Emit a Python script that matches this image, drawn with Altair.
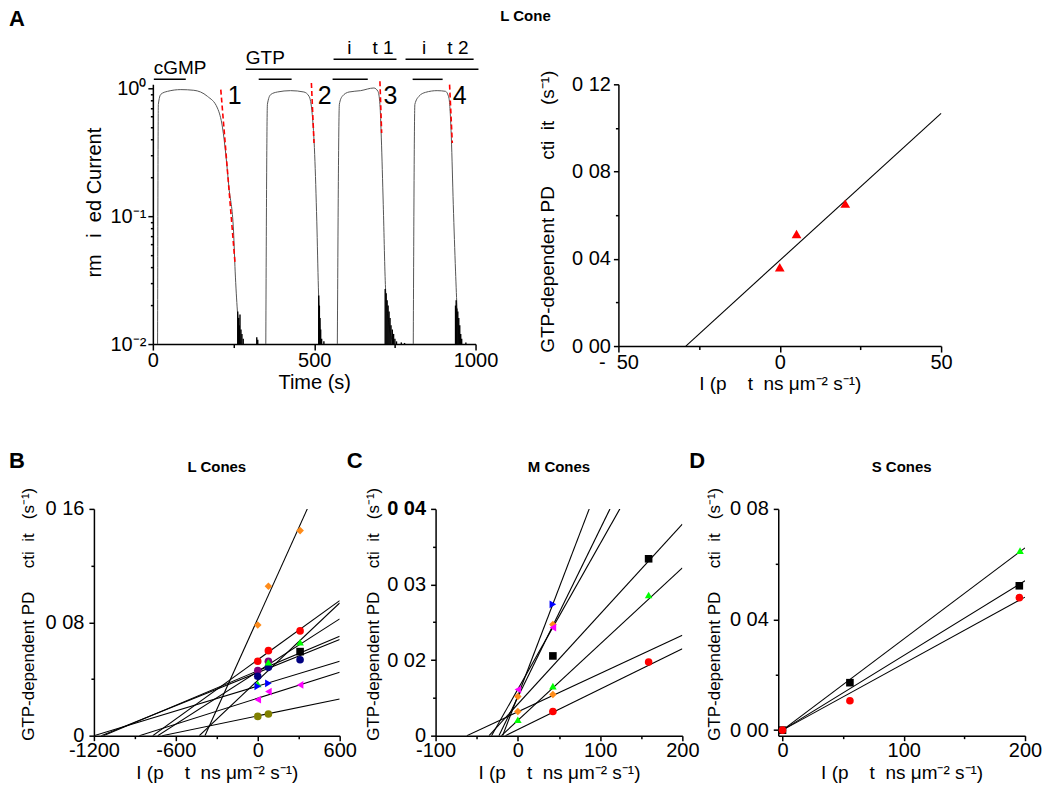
import altair as alt
import pandas as pd

FONT = "Liberation Sans"
NB = "\u00a0"

# ---------------- texts ----------------
TOP_TITLE = "L Cone"
PANEL_TITLES = ["L Cones", "M Cones", "S Cones"]
Y_TRACE = NB * 5 + "rm" + NB * 3 + "i" + NB * 2 + "ed Current"
Y_PDE = "GTP-dependent PD" + NB * 5 + "cti" + NB * 2 + "it" + NB * 3 + "(s⁻¹)"
X_INT = "I (p" + NB * 4 + "t" + NB * 2 + "ns μm⁻² s⁻¹)"
X_TIME = "Time (s)"

# ---------------- Panel A (left): current trace ----------------
p1_t = [14.6, 17, 24.8, 45.5, 86.7, 127, 169, 200, 216, 226, 236, 250, 255, 262, 272]
p1_v = [0.01, 0.75, 0.898, 0.947, 0.977, 0.965, 0.866, 0.702, 0.49, 0.305, 0.166, 0.0764, 0.0372, 0.0181, 0.01]
p2_t = [350, 355, 365, 386, 427, 468, 484, 494, 501.5, 508, 513, 520]
p2_v = [0.01, 0.75, 0.893, 0.936, 0.959, 0.936, 0.866, 0.622, 0.303, 0.0914, 0.0275, 0.01]
p3_t = [571.7, 578, 587, 608, 644, 685, 697.6, 703.7, 708, 714, 721, 731.6, 747]
p3_v = [0.01, 0.75, 0.866, 0.936, 0.959, 1.006, 0.947, 0.746, 0.409, 0.123, 0.0275, 0.0143, 0.01]
p4_t = [807, 812, 824.5, 845, 881, 907, 917.5, 925, 931, 938, 943, 951]
p4_v = [0.01, 0.75, 0.866, 0.93, 0.959, 0.947, 0.84, 0.409, 0.123, 0.0372, 0.0181, 0.01]

noise_t = [263, 266, 268, 270, 273, 276, 280, 322, 325,
           514, 516, 518, 520, 523, 530,
           720, 723, 726, 729, 732, 735, 738, 742, 746, 750, 755, 770, 780,
           938, 940, 942, 945, 948, 951, 954, 957, 970]
noise_v = [0.018, 0.016, 0.014, 0.017, 0.013, 0.012, 0.011, 0.0113, 0.0108,
           0.024, 0.02, 0.016, 0.013, 0.011, 0.0105,
           0.027, 0.025, 0.022, 0.02, 0.018, 0.016, 0.014, 0.013, 0.012, 0.011, 0.0105, 0.0103, 0.0102,
           0.02, 0.022, 0.019, 0.018, 0.016, 0.014, 0.012, 0.011, 0.0103]

fit_t0 = [210.5, 491.3, 703.7, 919.5]
fit_v0 = [0.977, 1.10, 1.134, 1.069]
fit_t1 = [254.9, 499.4, 709.0, 927.9]
fit_v1 = [0.0422, 0.374, 0.448, 0.374]

bar_t0 = [3, 288, 328, 557, 805, 560, 783]
bar_t1 = [102, 1009, 430, 666, 898, 755, 994]
bar_lv = [1.176, 1.407, 1.176, 1.176, 1.176, 1.685, 1.685]

lab_left = ["cGMP", "GTP"]
lab_left_t = [3, 288]
lab_left_lv = [1.286, 1.54]
lab_right = ["i" + NB * 4 + "t 1", "i" + NB * 4 + "t 2"]
lab_right_t = [746, 978]
lab_right_lv = [1.843, 1.843]

num_labels = ["1", "2", "3", "4"]
num_t = [232, 511, 715, 929]
num_lv = [0.75, 0.75, 0.75, 0.75]

# ---------------- Panel A (right) ----------------
AR_X = [0, 5.2, 20.3]
AR_Y = [0.0361, 0.0514, 0.0653]
AR_FIT_X = [-29.1, 50]
AR_FIT_Y = [0.0, 0.1067]

# ---------------- Panel B: L cones ----------------
B_series = ["orange", "red", "purple", "navy", "green", "black", "blue", "magenta", "olive"]
B_colors = ["#FF8C1A", "#FF0000", "#800080", "#000080", "#00FF00", "#000000", "#0000FF", "#FF00FF", "#808000"]
B_shapes = ["diamond", "circle", "circle", "circle", "triangle-up", "square", "triangle-right", "triangle-left", "circle"]
B_px = [[0, 78, 310], [0, 78, 310], [0, 78], [0, 78, 310], [0, 78, 310], [310], [0, 78], [0, 78, 310], [0, 78]]
B_py = [[0.0781, 0.1054, 0.1447], [0.0525, 0.060, 0.0739], [0.0459, 0.0525], [0.0419, 0.0482, 0.0536],
        [0.0365, 0.0518, 0.0659], [0.0593], [0.0348, 0.0369], [0.0254, 0.0311, 0.0358], [0.0136, 0.0153]]
B_lx = [[-387, 363], [-769, 600], [-732, 600], [-1146, 600], [-428, 600], [-1130, 600], [-1200, 600], [-867, 600], [-700, 600]]
B_ly = [[0, 0.16], [0, 0.0953], [0, 0.0824], [0, 0.0678], [0, 0.0936], [0, 0.0701], [0, 0.0525], [0, 0.0447], [0, 0.0259]]

# ---------------- Panel C: M cones ----------------
C_series = ["blue", "orange", "magenta", "black", "green", "teal", "red"]
C_colors = ["#0000FF", "#FF8C1A", "#FF00FF", "#000000", "#00FF00", "#008080", "#FF0000"]
C_shapes = ["triangle-down", "diamond", "triangle-left", "square", "triangle-up", "triangle-right", "circle"]
C_px = [[42.6], [0, 42.6], [0, 42.6], [42.6, 159], [0, 42.6, 159], [0, 42.6], [42.6, 159]]
C_py = [[0.02737], [0.01518, 0.0247], [0.0161, 0.0243], [0.02055, 0.0334], [0.0121, 0.01656, 0.0286],
        [0.0132, 0.01545], [0.0132, 0.01975]]
C_lx = [[-18.5, 86.8], [-23, 112], [-32, 124], [-35, 200], [-20, 200], [-62, 200], [-15, 200]]
C_ly = [[0.01, 0.04], [0.01, 0.04], [0.01, 0.04], [0.01, 0.038], [0.01, 0.0322], [0.01, 0.0233], [0.01, 0.0215]]

# ---------------- Panel D: S cones ----------------
D_series = ["green", "black", "red"]
D_colors = ["#00FF00", "#000000", "#FF0000"]
D_shapes = ["triangle-up", "square", "circle"]
D_px = [[0, 195.9], [0, 55.6, 195.3], [0, 55.6, 195.3]]
D_py = [[0, 0.0649], [0, 0.01716, 0.0522], [0, 0.01063, 0.0479]]
D_lx = [[0, 200], [0, 200], [0, 200]]
D_ly = [[0, 0.0659], [0, 0.054], [0, 0.0481]]

# ---------------- tick values / labels ----------------
TIME_MAJOR, TIME_LABELS, TIME_MINOR = [0, 500, 1000], ["0", "500", "1000"], [250, 750]
CUR_MAJOR, CUR_LABELS = [0.01, 0.1, 1.0], ["10⁻²", "10⁻¹", "10⁰"]
CUR_MINOR = [0.02, 0.03, 0.04, 0.05, 0.06, 0.07, 0.08, 0.09, 0.2, 0.3, 0.4, 0.5, 0.6, 0.7, 0.8, 0.9]
AR_XMAJ, AR_XLAB, AR_XMIN = [-50, 0, 50], ["-" + NB * 2 + "50", "0", "50"], [-25, 25]
AR_YMAJ, AR_YLAB, AR_YMIN = [0, 0.04, 0.08, 0.12], ["0 00", "0 04", "0 08", "0 12"], [0.02, 0.06, 0.10]
B_XMAJ, B_XLAB, B_XMIN = [-1200, -600, 0, 600], ["-1200", "-600", "0", "600"], [-900, -300, 300]
B_YMAJ, B_YLAB, B_YMIN = [0, 0.08, 0.16], ["0", "0 08", "0 16"], [0.04, 0.12]
C_XMAJ, C_XLAB, C_XMIN = [-100, 0, 100, 200], ["-100", "0", "100", "200"], [-50, 50, 150]
C_YMAJ, C_YLAB, C_YMIN = [0.01, 0.02, 0.03, 0.04], ["0", "0 02", "0 03", "0 04"], [0.015, 0.025, 0.035]
D_XMAJ, D_XLAB, D_XMIN = [0, 100, 200], ["0", "100", "200"], [50, 150]
D_YMAJ, D_YLAB, D_YMIN = [0, 0.04, 0.08], ["0 00", "0 04", "0 08"], [0.02, 0.06]


def eq(v):
    return f"abs(datum.value - ({v!r})) < 1e-12"


def make_axis(major, labels, minor, title, major_size, minor_size, label_pad, title_pad,
              title_size=20, bold_value=None, title_y=None):
    values = sorted(set(list(major) + list(minor)))
    expr = "''"
    for v, lab in reversed(list(zip(major, labels))):
        expr = f"({eq(v)}) ? '{lab}' : {expr}"
    major_test = " || ".join(f"({eq(v)})" for v in major)
    kw = dict(values=values, labelExpr=expr, title=title, titleFontSize=title_size,
              tickSize={"condition": {"test": major_test, "value": major_size}, "value": minor_size},
              labelPadding=label_pad, titlePadding=title_pad)
    if bold_value is not None:
        kw["labelFontWeight"] = {"condition": {"test": eq(bold_value), "value": "bold"}, "value": "normal"}
    if title_y is not None:
        kw["titleY"] = title_y
    return alt.Axis(**kw)


def label_text(text, dx, dy, size, align="left", baseline="top"):
    return alt.Chart(pd.DataFrame({"lab": [text]})).mark_text(
        align=align, baseline=baseline, font=FONT, fontSize=size, fontWeight="bold", color="black"
    ).encode(x=alt.value(dx), y=alt.value(dy), text="lab:N")


# ================= Panel A left =================
rows = []
for k, (ts, vs) in enumerate(zip([p1_t, p2_t, p3_t, p4_t], [p1_v, p2_v, p3_v, p4_v])):
    for i, (t, v) in enumerate(zip(ts, vs)):
        rows.append(dict(t=t, v=v, seg=k, o=i))
trace_df = pd.DataFrame(rows)
noise_df = pd.DataFrame({"t": noise_t, "v": noise_v, "b": [0.01] * len(noise_t)})
fit_rows = []
for k in range(4):
    fit_rows.append(dict(t=fit_t0[k], v=fit_v0[k], seg=k, o=0))
    fit_rows.append(dict(t=fit_t1[k], v=fit_v1[k], seg=k, o=1))
fit_df = pd.DataFrame(fit_rows)
bar_df = pd.DataFrame({"t": bar_t0, "t2": bar_t1, "v": bar_lv})
ll_df = pd.DataFrame({"t": lab_left_t, "v": lab_left_lv, "lab": lab_left})
lr_df = pd.DataFrame({"t": lab_right_t, "v": lab_right_lv, "lab": lab_right})
num_df = pd.DataFrame({"t": num_t, "v": num_lv, "lab": num_labels})

ax_time = make_axis(TIME_MAJOR, TIME_LABELS, TIME_MINOR, X_TIME, 6, 3.5, 0, 2)
ax_cur = make_axis(CUR_MAJOR, CUR_LABELS, CUR_MINOR, Y_TRACE, 5, 2.5, 2, 6, title_y=118)
xT = alt.X("t:Q", scale=alt.Scale(domain=[0, 1000], nice=False, zero=False), axis=ax_time)
yT = alt.Y("v:Q", scale=alt.Scale(type="log", domain=[0.01, 1.075], nice=False), axis=ax_cur)

trace = alt.Chart(trace_df).mark_line(color="#555555", strokeWidth=1, interpolate="monotone").encode(
    x=xT, y=yT, detail="seg:N", order="o:Q")
noise = alt.Chart(noise_df).mark_rule(color="black", strokeWidth=1.4).encode(x=xT, y=yT, y2="b:Q")
fits = alt.Chart(fit_df).mark_line(color="#FF0000", strokeWidth=1.6, strokeDash=[5, 3]).encode(
    x=xT, y=yT, detail="seg:N", order="o:Q")
bars = alt.Chart(bar_df).mark_rule(color="black", strokeWidth=1.5).encode(x=xT, x2="t2:Q", y=yT)
tl = alt.Chart(ll_df).mark_text(align="left", baseline="alphabetic", font=FONT, fontSize=19, color="black").encode(
    x=xT, y=yT, text="lab:N")
tr = alt.Chart(lr_df).mark_text(align="right", baseline="alphabetic", font=FONT, fontSize=19, color="black").encode(
    x=xT, y=yT, text="lab:N")
nums = alt.Chart(num_df).mark_text(align="left", baseline="alphabetic", font=FONT, fontSize=25, color="black").encode(
    x=xT, y=yT, text="lab:N")

A_left = alt.layer(trace, noise, fits, bars, tl, tr, nums, label_text("A", -144, -75, 22)).properties(
    width=323, height=260)

# ================= Panel A right =================
ax_ar_x = make_axis(AR_XMAJ, AR_XLAB, AR_XMIN, X_INT, 6, 3.5, 0, 2, title_size=19)
ax_ar_y = make_axis(AR_YMAJ, AR_YLAB, AR_YMIN, Y_PDE, 5, 3, 3, 14, title_size=19, title_y=127)
xR = alt.X("x:Q", scale=alt.Scale(domain=[-50, 50], nice=False, zero=False), axis=ax_ar_x)
yR = alt.Y("y:Q", scale=alt.Scale(domain=[0, 0.12], nice=False, zero=False), axis=ax_ar_y)
ar_fit = alt.Chart(pd.DataFrame({"x": AR_FIT_X, "y": AR_FIT_Y})).mark_line(color="black", strokeWidth=1.1).encode(x=xR, y=yR)
ar_pts = alt.Chart(pd.DataFrame({"x": AR_X, "y": AR_Y})).mark_point(
    shape="triangle-up", filled=True, size=95, color="#FF0000", opacity=1, strokeWidth=0).encode(x=xR, y=yR)
A_right = alt.layer(ar_fit, ar_pts, label_text(TOP_TITLE, -93, -63, 15, "center", "alphabetic")).properties(
    width=323, height=262)


# ================= Bottom panels =================
def cone_panel(series, colors, shapes, px, py, lx, ly, xdom, ydom, xaxis, yaxis, w, h, title, let, let_dx):
    prow, lrow = [], []
    for s, xs, ys in zip(series, px, py):
        for x, y in zip(xs, ys):
            prow.append(dict(x=x, y=y, s=s))
    for s, xs, ys in zip(series, lx, ly):
        for i, (x, y) in enumerate(zip(xs, ys)):
            lrow.append(dict(x=x, y=y, s=s, o=i))
    X = alt.X("x:Q", scale=alt.Scale(domain=xdom, nice=False, zero=False), axis=xaxis)
    Y = alt.Y("y:Q", scale=alt.Scale(domain=ydom, nice=False, zero=False), axis=yaxis)
    lines = alt.Chart(pd.DataFrame(lrow)).mark_line(color="black", strokeWidth=1.1, clip=True).encode(
        x=X, y=Y, detail="s:N", order="o:Q")
    pts = alt.Chart(pd.DataFrame(prow)).mark_point(filled=True, size=58, opacity=1, strokeWidth=0).encode(
        x=X, y=Y,
        color=alt.Color("s:N", scale=alt.Scale(domain=series, range=colors), legend=None),
        shape=alt.Shape("s:N", scale=alt.Scale(domain=series, range=shapes), legend=None))
    return alt.layer(lines, pts, label_text(let, let_dx, -58, 22),
                     label_text(title, w / 2, -37, 15, "center", "alphabetic")).properties(width=w, height=h)


B = cone_panel(B_series, B_colors, B_shapes, B_px, B_py, B_lx, B_ly, [-1200, 600], [0, 0.16],
               make_axis(B_XMAJ, B_XLAB, B_XMIN, X_INT, 5, 3, 0, 3, title_size=19),
               make_axis(B_YMAJ, B_YLAB, B_YMIN, Y_PDE, 5, 3, 5, 8, title_size=17, title_y=105),
               246, 227, PANEL_TITLES[0], "B", -85)
C = cone_panel(C_series, C_colors, C_shapes, C_px, C_py, C_lx, C_ly, [-100, 200], [0.01, 0.04],
               make_axis(C_XMAJ, C_XLAB, C_XMIN, X_INT, 5, 3, 0, 3, title_size=19),
               make_axis(C_YMAJ, C_YLAB, C_YMIN, Y_PDE, 5, 3, 5, 4, title_size=17, bold_value=0.04, title_y=105),
               247, 227, PANEL_TITLES[1], "C", -89)
D = cone_panel(D_series, D_colors, D_shapes, D_px, D_py, D_lx, D_ly, [-3.5, 200], [-0.002, 0.08],
               make_axis(D_XMAJ, D_XLAB, D_XMIN, X_INT, 5, 3, 0, 3, title_size=19),
               make_axis(D_YMAJ, D_YLAB, D_YMIN, Y_PDE, 5, 3, 5, 6, title_size=17, title_y=105),
               247, 227, PANEL_TITLES[2], "D", -89)


def spacer():
    return alt.Chart(pd.DataFrame({"a": [0]})).mark_rule(strokeOpacity=0).encode(
        x=alt.value(0), x2=alt.value(1), y=alt.value(0)).properties(width=1, height=1)


top_row = alt.hconcat(A_left, A_right, spacing=143, bounds="flush")
bottom_row = alt.hconcat(B, C, D, spacing=96, bounds="flush")
top = alt.hconcat(spacer(), top_row, spacing=0)
bottom = alt.hconcat(spacer(), bottom_row, spacing=0)

chart = alt.vconcat(top, bottom, spacing=57).properties(
    padding={"left": 0, "top": 0, "right": 0, "bottom": 0}
).configure_axis(
    labelFont=FONT, titleFont=FONT, labelFontSize=20, titleFontSize=20, titleFontWeight="normal",
    domainColor="black", tickColor="black", labelColor="black", titleColor="black",
    domainWidth=1.5, tickWidth=1.5, grid=False, labelFlush=False, labelOverlap=False, labelBound=False
).configure_view(stroke=None)

chart.save("out.html", embed_options={"renderer": "svg", "actions": False})
